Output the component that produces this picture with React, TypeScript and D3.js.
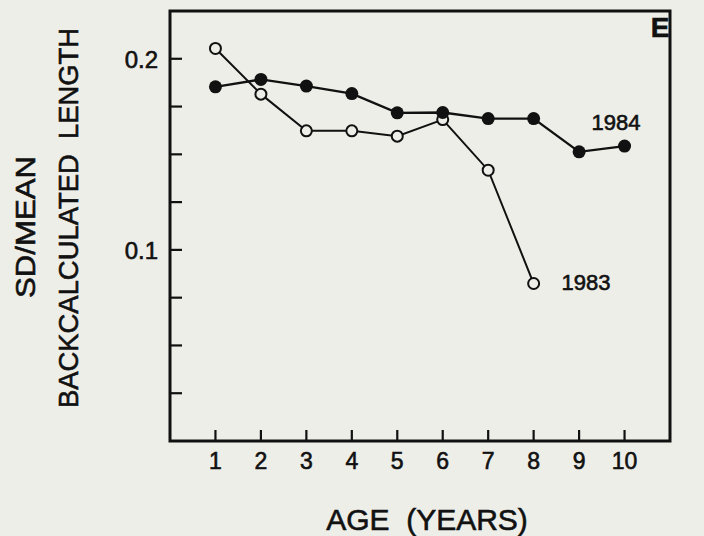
import React, { useEffect, useRef } from 'react';
import * as d3 from 'd3';

const ages = [1, 2, 3, 4, 5, 6, 7, 8, 9, 10];
const sd1984 = [0.1853, 0.1892, 0.1857, 0.1818, 0.1717, 0.1719, 0.1687, 0.1687, 0.1513, 0.1543];
const sd1983 = [0.2054, 0.1815, 0.1623, 0.1623, 0.1595, 0.1682, 0.1417, 0.0824];
const yTicks = [0.025, 0.05, 0.075, 0.1, 0.125, 0.15, 0.175, 0.2];
const yLabels = [0.1, 0.2];

const W = 704;
const H = 536;
const paper = '#eeeee8';
const ink = '#111';
const font = 'Liberation Sans, Arial, sans-serif';

const App = () => {
  const svgRef = useRef<SVGSVGElement>(null);

  useEffect(() => {
    const svg = d3.select(svgRef.current);
    svg.selectAll('*').remove();

    const margin = { top: 11, right: 34, bottom: 95, left: 170 };
    const x = d3.scaleLinear().domain([0, 11]).range([margin.left, W - margin.right]);
    const y = d3.scaleLinear().domain([0, 0.225]).range([H - margin.bottom, margin.top]);

    svg.append('rect').attr('width', W).attr('height', H).attr('fill', paper);

    // frame
    svg.append('rect')
      .attr('x', x(0)).attr('y', y(0.225))
      .attr('width', x(11) - x(0)).attr('height', y(0) - y(0.225))
      .attr('fill', 'none').attr('stroke', ink).attr('stroke-width', 3);

    // heavier text like the printed figure
    const txt = (sel: any, size: number) => sel
      .style('font-family', font).style('font-size', `${size}px`)
      .attr('fill', ink).attr('stroke', ink).attr('stroke-width', 0.6);

    // y ticks (inward)
    svg.selectAll('.yt').data(yTicks).join('line')
      .attr('x1', x(0)).attr('x2', x(0) + 12)
      .attr('y1', d => y(d)).attr('y2', d => y(d))
      .attr('stroke', ink).attr('stroke-width', 2.2);

    txt(svg.selectAll('.yl').data(yLabels).join('text')
      .attr('x', x(0) - 12).attr('y', d => y(d) + 9)
      .attr('text-anchor', 'end')
      .text(d => d3.format('.1f')(d)), 24);

    // x ticks (inward)
    svg.selectAll('.xt').data(ages).join('line')
      .attr('x1', d => x(d)).attr('x2', d => x(d))
      .attr('y1', y(0)).attr('y2', y(0) - 11)
      .attr('stroke', ink).attr('stroke-width', 2.2);

    txt(svg.selectAll('.xl').data(ages).join('text')
      .attr('x', d => x(d)).attr('y', y(0) + 28)
      .attr('text-anchor', 'middle')
      .text(d => d), 23);

    // axis titles
    txt(svg.append('text')
      .attr('x', 427).attr('y', 530)
      .attr('text-anchor', 'middle')
      .attr('xml:space', 'preserve')
      .text('AGE  (YEARS)'), 30);

    txt(svg.append('text')
      .attr('transform', 'translate(35,227) rotate(-90)')
      .attr('text-anchor', 'middle')
      .attr('textLength', 142).attr('lengthAdjust', 'spacingAndGlyphs')
      .text('SD/MEAN'), 28);
    txt(svg.append('text')
      .attr('transform', 'translate(78,218) rotate(-90)')
      .attr('text-anchor', 'middle')
      .attr('xml:space', 'preserve')
      .attr('textLength', 380).attr('lengthAdjust', 'spacingAndGlyphs')
      .text('BACKCALCULATED  LENGTH'), 28);

    const line = d3.line<number>().x((d, i) => x(ages[i])).y(d => y(d));

    // 1983 open circles
    svg.append('path').datum(sd1983).attr('d', line)
      .attr('fill', 'none').attr('stroke', ink).attr('stroke-width', 2);
    // 1984 filled circles
    svg.append('path').datum(sd1984).attr('d', line)
      .attr('fill', 'none').attr('stroke', ink).attr('stroke-width', 2.4);

    svg.selectAll('.p83').data(sd1983).join('circle')
      .attr('cx', (d, i) => x(ages[i])).attr('cy', d => y(d)).attr('r', 5.5)
      .attr('fill', paper).attr('stroke', ink).attr('stroke-width', 2);
    svg.selectAll('.p84').data(sd1984).join('circle')
      .attr('cx', (d, i) => x(ages[i])).attr('cy', d => y(d)).attr('r', 6.5)
      .attr('fill', ink);

    txt(svg.append('text')
      .attr('x', 616).attr('y', 130).attr('text-anchor', 'middle')
      .text('1984'), 22);
    txt(svg.append('text')
      .attr('x', 586).attr('y', 290).attr('text-anchor', 'middle')
      .text('1983'), 22);
    txt(svg.append('text')
      .attr('x', 660).attr('y', 37).attr('text-anchor', 'middle')
      .style('font-weight', 'bold')
      .text('E'), 28);
  }, []);

  return (
    <svg ref={svgRef} width={W} height={H}
      style={{ position: 'absolute', left: 0, top: 0, display: 'block' }} />
  );
};

export default App;
